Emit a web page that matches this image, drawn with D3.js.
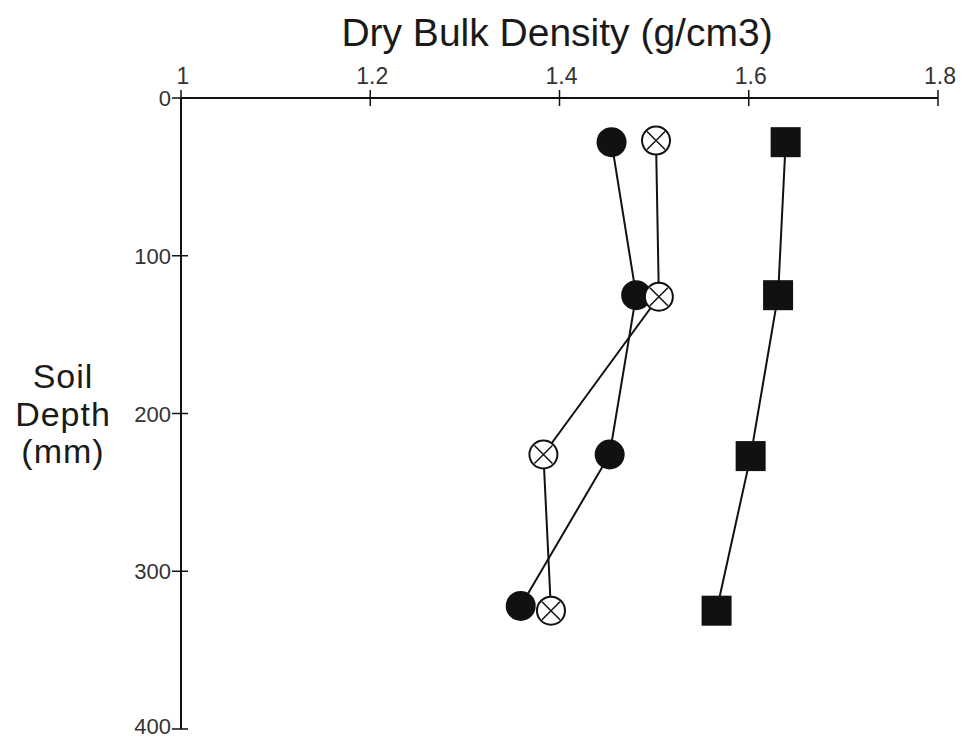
<!DOCTYPE html>
<html><head><meta charset="utf-8">
<script src="https://cdn.jsdelivr.net/npm/d3@7"></script>
<style>body{margin:0;background:#fff;} text{font-family:"Liberation Sans",Arial,sans-serif;}</style>
</head><body>
<svg id="c" width="963" height="739"></svg>
<script>
const xTicks = [1, 1.2, 1.4, 1.6, 1.8];
const yTicks = [0, 100, 200, 300, 400];
const filledDensity = [1.455, 1.481, 1.453, 1.359];
const filledDepth = [28, 125, 226, 322];
const crossDensity = [1.502, 1.505, 1.383, 1.391];
const crossDepth = [27, 126, 226, 325];
const squareDensity = [1.639, 1.631, 1.602, 1.566];
const squareDepth = [28, 125, 227, 325];

const svg = d3.select("#c");
const x = d3.scaleLinear().domain([1, 1.8]).range([181, 938]);
const y = d3.scaleLinear().domain([0, 400]).range([98, 729]);
const ink = "#111";

// axes
svg.append("line").attr("x1", x(1)).attr("x2", x(1.8)).attr("y1", y(0)).attr("y2", y(0)).attr("stroke", ink).attr("stroke-width", 2);
svg.append("line").attr("x1", x(1)).attr("x2", x(1)).attr("y1", y(0)).attr("y2", y(400)).attr("stroke", ink).attr("stroke-width", 2);

svg.selectAll(".xt").data(xTicks).enter().append("line")
  .attr("x1", d => x(d)).attr("x2", d => x(d)).attr("y1", y(0) - 8).attr("y2", y(0) + 8)
  .attr("stroke", ink).attr("stroke-width", 1.5);
svg.selectAll(".xl").data(xTicks).enter().append("text")
  .attr("x", d => x(d) + 2).attr("y", 84).attr("text-anchor", "middle")
  .attr("font-size", 23).attr("fill", "#333").text(d => d);

svg.selectAll(".yt").data(yTicks).enter().append("line")
  .attr("x1", x(1) - 9).attr("x2", x(1) + 7).attr("y1", d => y(d)).attr("y2", d => y(d))
  .attr("stroke", ink).attr("stroke-width", 1.5);
svg.selectAll(".yl").data(yTicks).enter().append("text")
  .attr("x", x(1) - 10).attr("y", d => Math.min(y(d) + 8, 734)).attr("text-anchor", "end")
  .attr("font-size", 22).attr("fill", "#333").text(d => d);

svg.append("text").attr("x", 557).attr("y", 46).attr("text-anchor", "middle")
  .attr("font-size", 39).attr("fill", "#1a1a1a").text("Dry Bulk Density (g/cm3)");
const yl = svg.append("text").attr("text-anchor", "middle").attr("font-size", 34)
  .attr("letter-spacing", 1).attr("fill", "#1a1a1a");
[["Soil", 388], ["Depth", 426], ["(mm)", 463]].forEach(([t, yy]) =>
  yl.append("tspan").attr("x", 63).attr("y", yy).text(t));

const line = d3.line().x(d => x(d[0])).y(d => y(d[1]));
function series(dens, dep) { return dens.map((v, i) => [v, dep[i]]); }
const sF = series(filledDensity, filledDepth);
const sC = series(crossDensity, crossDepth);
const sS = series(squareDensity, squareDepth);
[sF, sC, sS].forEach(s => svg.append("path").attr("d", line(s)).attr("fill", "none").attr("stroke", ink).attr("stroke-width", 2));

// markers
svg.selectAll(".sq").data(sS).enter().append("rect")
  .attr("x", d => x(d[0]) - 15).attr("y", d => y(d[1]) - 15).attr("width", 30).attr("height", 30).attr("fill", ink);
svg.selectAll(".fc").data(sF).enter().append("circle")
  .attr("cx", d => x(d[0])).attr("cy", d => y(d[1])).attr("r", 15).attr("fill", ink);
const cg = svg.selectAll(".cc").data(sC).enter().append("g")
  .attr("transform", d => `translate(${x(d[0])},${y(d[1])})`);
cg.append("circle").attr("r", 14).attr("fill", "#fff").attr("stroke", ink).attr("stroke-width", 2);
cg.append("path").attr("d", "M-9,-9L9,9M9,-9L-9,9").attr("stroke", ink).attr("stroke-width", 1.5);
</script>
</body></html>
